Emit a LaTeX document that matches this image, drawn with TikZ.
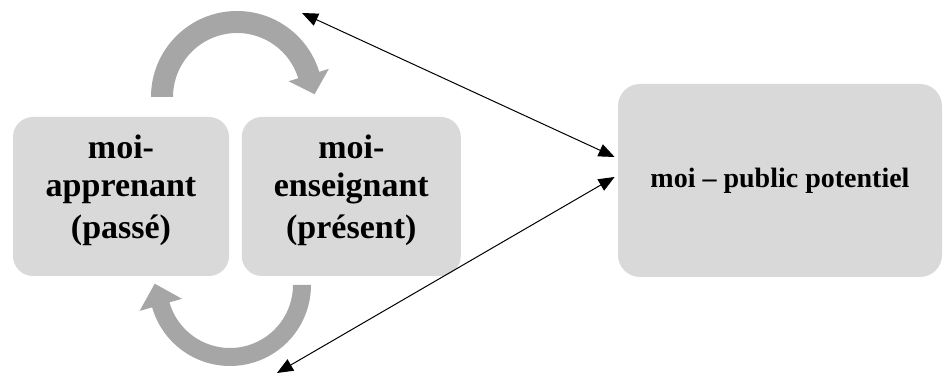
\documentclass[tikz,border=0pt]{standalone}
\usepackage{fontspec}
\setmainfont{Liberation Serif}
\usepackage{xcolor}
\usetikzlibrary{arrows.meta,positioning,calc}

\definecolor{boxgray}{HTML}{D9D9D9}
\definecolor{arcgray}{HTML}{A6A6A6}

\begin{document}
\begin{tikzpicture}[x=0.5pt, y=0.5pt,
  moibox/.style={fill=boxgray, rounded corners=10pt, inner sep=0pt, align=center,
    font=\bfseries\fontsize{17}{19}\selectfont},
  lien/.style={{Triangle[length=8pt,width=6.5pt]}-{Triangle[length=8pt,width=6.5pt]}, line width=0.5pt}]
\useasboundingbox (0,0) rectangle (944,379);

% Boxes
\node[moibox, minimum width=108pt, minimum height=79.5pt] (apprenant) at (121,182.5)
  {moi-\\apprenant\\[2pt](passé)\\[-9pt]\mbox{}};
\node[moibox, minimum width=109.5pt, minimum height=79.5pt, right=6pt of apprenant] (enseignant)
  {moi-\\enseignant\\[2pt](présent)\\[-9pt]\mbox{}};
\node[moibox, rounded corners=11pt, minimum width=162pt, minimum height=96.5pt,
  font=\bfseries\fontsize{14}{17}\selectfont] (public) at (780,198.5) {\raisebox{-1.5pt}{moi -- public potentiel}};

% Curved arrows
\begin{scope}[shift={(237,282)}]
\fill[arcgray] (180:86) arc[start angle=180, end angle=17, radius=86]
  -- (17:96) -- ($(17:75)+(-73:20)$) -- (17:54) -- (17:64)
  arc[start angle=17, end angle=180, radius=64] -- cycle;
\end{scope}
\begin{scope}[shift={(230,94)}]
\fill[arcgray] (0:81) arc[start angle=0, end angle=-164, radius=81]
  -- (-164:94) -- ($(-164:72)+(106:22)$) -- (-164:50) -- (-164:63)
  arc[start angle=-164, end angle=0, radius=63] -- cycle;
\end{scope}

% Links to the public
\coordinate (haut) at (302,366);
\coordinate (bas) at (277,6);
\draw[lien] (haut) -- ([shift={(-3,23.5)}]public.west);
\draw[lien] (bas) -- ([shift={(-3,3.5)}]public.west);

\end{tikzpicture}
\end{document}
